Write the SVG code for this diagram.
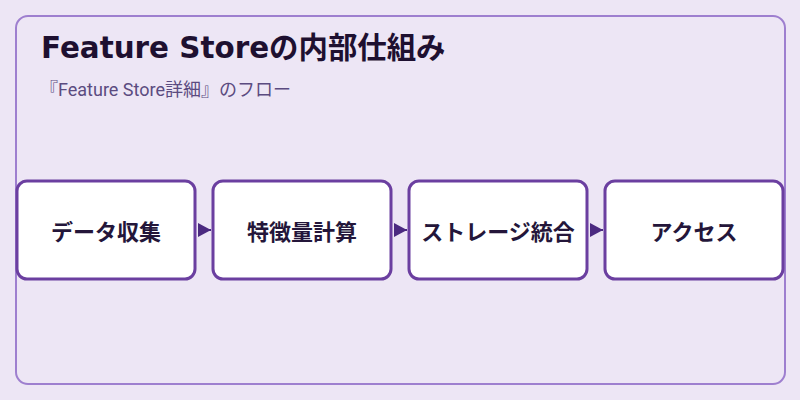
<svg xmlns="http://www.w3.org/2000/svg" width="800" height="400" viewBox="0 0 800 400">
<defs>
<style>
.node rect{fill:#ffffff;stroke:#6b3fa0;stroke-width:3}
.node text{font-family:"Noto Sans CJK JP","Noto Sans",sans-serif;font-weight:700;font-size:22px;fill:#24163a;text-anchor:middle;dominant-baseline:central}
.conn line{stroke:#4b2a80;stroke-width:2}
</style>
<marker id="arr" markerWidth="13" markerHeight="14" refX="13" refY="7" orient="auto" markerUnits="userSpaceOnUse" viewBox="0 0 13 14">
<path d="M0,0 L13,7 L0,14 Z" fill="#4b2a80"/>
</marker>
</defs>
<rect x="0" y="0" width="800" height="400" fill="#ede6f5"/>
<rect x="16" y="16" width="769" height="368" rx="12" fill="#ede6f5" stroke="#9e7fcf" stroke-width="2"/>
<text x="41" y="58" font-family="'DejaVu Sans','Noto Sans CJK JP',sans-serif" font-weight="700" font-size="29.4" fill="#1e1030">Feature Storeの内部仕組み</text>
<text x="40" y="96" font-family="Roboto,'Noto Sans CJK JP',sans-serif" font-size="18" fill="#5b4b80">『Feature Store詳細』のフロー</text>
<g class="conn">
<line x1="198" y1="230" x2="211" y2="230" marker-end="url(#arr)"/>
<line x1="394" y1="230" x2="407" y2="230" marker-end="url(#arr)"/>
<line x1="590" y1="230" x2="603" y2="230" marker-end="url(#arr)"/>
</g>
<g id="node1" class="node"><rect x="17" y="181" width="178" height="98" rx="10"/><text x="106" y="230">データ収集</text></g>
<g id="node2" class="node"><rect x="213" y="181" width="178" height="98" rx="10"/><text x="302" y="230">特徴量計算</text></g>
<g id="node3" class="node"><rect x="409" y="181" width="178" height="98" rx="10"/><text x="498" y="230">ストレージ統合</text></g>
<g id="node4" class="node"><rect x="605" y="181" width="178" height="98" rx="10"/><text x="694" y="230">アクセス</text></g>
</svg>
